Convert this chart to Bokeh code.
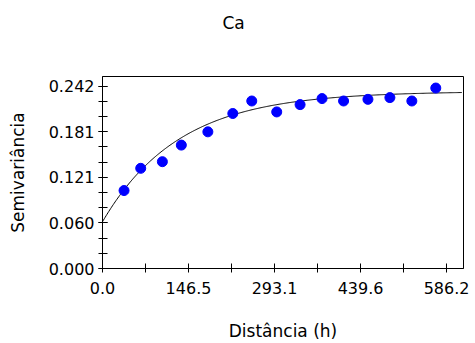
from bokeh.plotting import figure
from bokeh.models import FixedTicker, Range1d, Title
from bokeh.embed import file_html
from bokeh.resources import INLINE
import numpy as np

# Experimental semivariogram of Ca (lag distance, semivariance)
lag_h = [36.7, 65.1, 102.0, 134.3, 179.5, 222.0, 254.3, 296.8, 336.6,
         374.0, 410.7, 452.2, 489.6, 527.0, 567.8]
gamma = [0.1034, 0.1329, 0.1417, 0.1637, 0.1813, 0.2056, 0.2222, 0.2077,
         0.2174, 0.2254, 0.2222, 0.2244, 0.2267, 0.2222, 0.2394]

# Fitted exponential model parameters
nugget = 0.062
sill = 0.235
model_range = 390.0
model_hmax = 612.0

x_major = [0.0, 146.55, 293.1, 439.65, 586.2]
x_labels = ["0.0", "146.5", "293.1", "439.6", "586.2"]
x_minor = [73.275, 219.825, 366.375, 512.925]

y_major = [0.0, 0.0605, 0.121, 0.1815, 0.242]
y_labels = ["0.000", "0.060", "0.121", "0.181", "0.242"]
y_minor = [0.0605 * k / 3 for k in range(13)]

FONT = "DejaVu Sans"

p = figure(width=475, height=343, output_backend="svg", toolbar_location=None,
           x_range=Range1d(0, 615.0), y_range=Range1d(0, 0.2547),
           min_border_left=102, min_border_right=12,
           min_border_top=76, min_border_bottom=74)
p.title = None
p.xgrid.visible = False
p.ygrid.visible = False
p.outline_line_color = "black"
p.outline_line_width = 1
p.background_fill_color = "white"
p.border_fill_color = "white"

# Blank spacer row between the frame and the title
p.add_layout(Title(text=" ", text_font=FONT, text_font_size="17px", standoff=22), "above")
# Chart title
p.add_layout(Title(text="Ca", align="left", offset=120, standoff=0,
                   text_font=FONT, text_font_size="17px",
                   text_font_style="normal", text_color="black"), "above")

for ax in (p.xaxis[0], p.yaxis[0]):
    ax.axis_line_color = "black"
    ax.major_tick_line_color = "black"
    ax.minor_tick_line_color = "black"
    ax.major_tick_in = 5
    ax.major_tick_out = 4
    ax.minor_tick_in = 5
    ax.minor_tick_out = 4
    ax.major_label_text_font = FONT
    ax.major_label_text_font_size = "16px"
    ax.major_label_text_color = "black"
    ax.axis_label_text_font = FONT
    ax.axis_label_text_font_size = "17px"
    ax.axis_label_text_font_style = "normal"
    ax.axis_label_text_color = "black"

p.xaxis.ticker = FixedTicker(ticks=x_major, minor_ticks=x_minor)
p.xaxis.major_label_overrides = dict(zip(x_major, x_labels))
p.xaxis.axis_label = "Distância (h)"
p.xaxis.major_label_standoff = 9
p.xaxis.axis_label_standoff = 24

p.yaxis.ticker = FixedTicker(ticks=y_major, minor_ticks=y_minor)
p.yaxis.major_label_overrides = dict(zip(y_major, y_labels))
p.yaxis.axis_label = "Semivariância"
p.yaxis.major_label_standoff = 4
p.yaxis.axis_label_standoff = 18

# Exponential model curve
h = np.linspace(0, model_hmax, 400)
g = nugget + (sill - nugget) * (1 - np.exp(-3 * h / model_range))
p.line(h, g, line_color="black", line_width=1)

# Experimental points
p.scatter(lag_h, gamma, size=10, fill_color="#0000FF", line_color="#0000FF")

open("out.html", "w").write(file_html(p, INLINE))
